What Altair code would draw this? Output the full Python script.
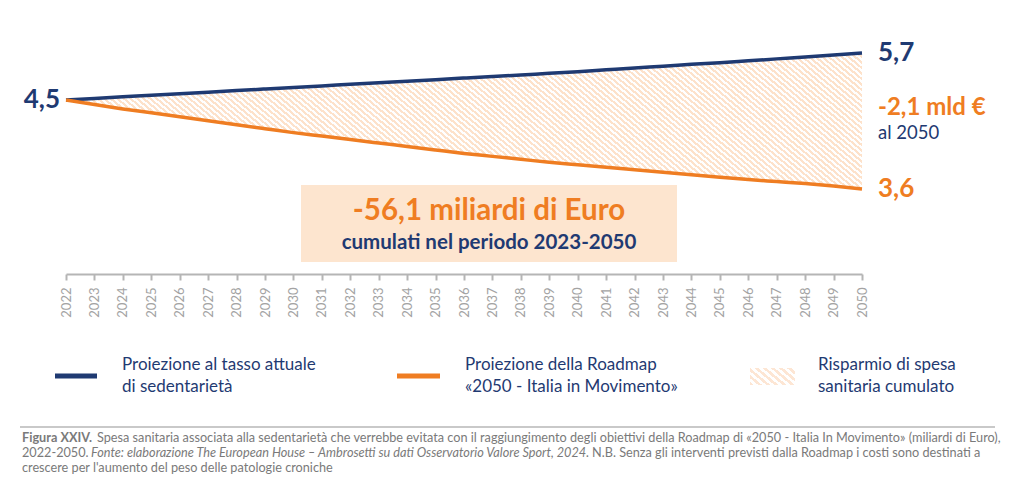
import math
import altair as alt
import pandas as pd

# ---------------- data ----------------
years = list(range(2022, 2051))
current_rate = [4.50, 4.54, 4.58, 4.62, 4.66, 4.70, 4.74, 4.78, 4.82, 4.86,
                4.90, 4.94, 4.98, 5.02, 5.06, 5.10, 5.14, 5.18, 5.22, 5.27,
                5.32, 5.36, 5.41, 5.45, 5.50, 5.55, 5.60, 5.65, 5.70]
roadmap = [4.50, 4.455, 4.41, 4.37, 4.33, 4.29, 4.25, 4.21, 4.17, 4.135,
           4.10, 4.065, 4.03, 3.995, 3.96, 3.93, 3.90, 3.87, 3.845, 3.82,
           3.795, 3.77, 3.745, 3.72, 3.695, 3.675, 3.655, 3.63, 3.60]
tick_years = list(range(2022, 2051))

legend_labels = [
    ["Proiezione al tasso attuale", "di sedentarietà"],
    ["Proiezione della Roadmap", "«2050 - Italia in Movimento»"],
    ["Risparmio di spesa", "sanitaria cumulato"],
]
box_title = "-56,1 miliardi di Euro"
box_sub = "cumulati nel periodo 2023-2050"
saving_label = "-2,1 mld €"
saving_sub = "al 2050"

df = pd.DataFrame({"year": years, "current": current_rate, "roadmap": roadmap})
df["current_lbl"] = df["current"].map(lambda v: f"{v:.1f}".replace(".", ","))
df["roadmap_lbl"] = df["roadmap"].map(lambda v: f"{v:.1f}".replace(".", ","))

# ---------------- style ----------------
NAVY = "#1f3a72"
ORANGE = "#ef7d22"
PEACH = "#fde5cf"
AXIS_GRAY = "#b5b5b5"
LABEL_GRAY = "#a3a3a3"
CAP_GRAY = "#7a7a7a"
FONT = "Lato"
W, H = 1004, 466


def stripes(bw, bh, theta_deg=40.0, period=4.2, c1="#fde2cb", c2="#ffffff"):
    th = math.radians(theta_deg)
    s, c = math.sin(th), math.cos(th)
    span = bw * s + bh * c
    lam = span / (bw * bw * s * s + bh * bh * c * c)
    x2 = lam * bw * s
    y2 = 1 - lam * bh * c
    n = max(1, int(span / period))
    stops = []
    for i in range(n):
        o0, o1, o2 = i / n, (i + 0.5) / n, (i + 1) / n
        stops += [alt.GradientStop(offset=o0, color=c1),
                  alt.GradientStop(offset=o1, color=c1),
                  alt.GradientStop(offset=o1, color=c2),
                  alt.GradientStop(offset=o2, color=c2)]
    return alt.LinearGradient(gradient="linear", stops=stops,
                              x1=0, y1=1, x2=x2, y2=y2)


x_scale = alt.Scale(domain=[2022, 2050], range=[58, 854], nice=False, zero=False)
y_scale = alt.Scale(domain=[3.6, 4.5, 5.7], range=[181, 92, 45], nice=False, zero=False)

x_axis = alt.Axis(values=tick_years, format="d", labelAngle=270, offset=-200,
                  domainColor=AXIS_GRAY, domainWidth=2, tickColor=AXIS_GRAY,
                  tickWidth=2, tickSize=6, labelColor=LABEL_GRAY, labelFont=FONT,
                  labelFontSize=13, labelPadding=7, grid=False, title=None)

X = alt.X("year:Q", scale=x_scale, axis=x_axis)
Y = lambda f: alt.Y(f"{f}:Q", scale=y_scale, axis=None)

base = alt.Chart(df)

area = base.mark_area(fill=stripes(796, 136), interpolate="monotone").encode(
    x=X, y=Y("current"), y2="roadmap:Q")

one = pd.DataFrame({"a": [0]})


def label(txt, x, y, size, color, weight="normal", style="normal",
          align="left", baseline="middle"):
    return alt.Chart(one).mark_text(
        text=txt, fontSize=size, color=color, fontWeight=weight,
        fontStyle=style, align=align, baseline=baseline, font=FONT
    ).encode(x=alt.value(x), y=alt.value(y))


box = alt.Chart(one).mark_rect(color=PEACH).encode(
    x=alt.value(293), x2=alt.value(669), y=alt.value(177), y2=alt.value(254))

line_cur = base.mark_line(color=NAVY, strokeWidth=3.5, interpolate="monotone").encode(
    x=X, y=Y("current"))
line_road = base.mark_line(color=ORANGE, strokeWidth=3.5, interpolate="monotone").encode(
    x=X, y=Y("roadmap"))

first = alt.Chart(df.head(1))
last = alt.Chart(df.tail(1))
lbl_start = first.mark_text(align="right", baseline="middle", dx=-6, fontSize=26,
                            fontWeight="bold", color=NAVY, font=FONT).encode(
    x=X, y=Y("current"), text="current_lbl:N")
lbl_end_cur = last.mark_text(align="left", baseline="middle", dx=16, fontSize=26,
                             fontWeight="bold", color=NAVY, font=FONT).encode(
    x=X, y=Y("current"), text="current_lbl:N")
lbl_end_road = last.mark_text(align="left", baseline="middle", dx=16, fontSize=26,
                              fontWeight="bold", color=ORANGE, font=FONT).encode(
    x=X, y=Y("roadmap"), text="roadmap_lbl:N")

layers = [area, box, line_cur, line_road, lbl_start, lbl_end_cur, lbl_end_road,
          label(saving_label, 870, 100, 24, ORANGE, weight="bold"),
          label(saving_sub, 870, 124.5, 18.5, NAVY),
          label(box_title, 481, 203, 29.5, ORANGE, weight="bold", align="center"),
          label(box_sub, 481, 235, 20.5, NAVY, weight="bold", align="center")]

# legend
legend_x_sym = [(47, 89), (389, 432)]
legend_x_txt = [114, 457, 810]
for (a, b), col in zip(legend_x_sym, [NAVY, ORANGE]):
    layers.append(alt.Chart(one).mark_rule(color=col, strokeWidth=5).encode(
        x=alt.value(a), x2=alt.value(b), y=alt.value(368)))
layers.append(alt.Chart(one).mark_rect(fill=stripes(45, 17, period=4.8, c1="#fde6d4")).encode(
    x=alt.value(742), x2=alt.value(787), y=alt.value(360), y2=alt.value(377)))
for tx, lines in zip(legend_x_txt, legend_labels):
    layers.append(label(lines[0], tx, 357, 17, NAVY))
    layers.append(label(lines[1], tx, 379, 17, NAVY))

# separator + caption
layers.append(alt.Chart(one).mark_rule(color="#c9c9c9", strokeWidth=2).encode(
    x=alt.value(12), x2=alt.value(987), y=alt.value(419)))
cap = 12.7
layers += [
    label("Figura XXIV.", 14, 430, cap, CAP_GRAY, weight="bold"),
    label("Spesa sanitaria associata alla sedentarietà che verrebbe evitata con il raggiungimento "
          "degli obiettivi della Roadmap di «2050 - Italia In Movimento» (miliardi di Euro),",
          89, 430, cap, CAP_GRAY),
    label("2022-2050.", 14, 445, cap, CAP_GRAY),
    label("Fonte: elaborazione The European House – Ambrosetti su dati Osservatorio Valore Sport, 2024.",
          83, 445, cap, CAP_GRAY, style="italic"),
    label("N.B. Senza gli interventi previsti dalla Roadmap i costi sono destinati a",
          584, 445, cap, CAP_GRAY),
    label("crescere per l'aumento del peso delle patologie croniche", 14, 460, cap, CAP_GRAY),
]

chart = alt.layer(*layers).properties(
    width=W, height=H, padding=0, autosize=alt.AutoSizeParams(type="none")
).configure_view(stroke=None)

chart.save("out.html", embed_options={"renderer": "svg", "actions": False})
